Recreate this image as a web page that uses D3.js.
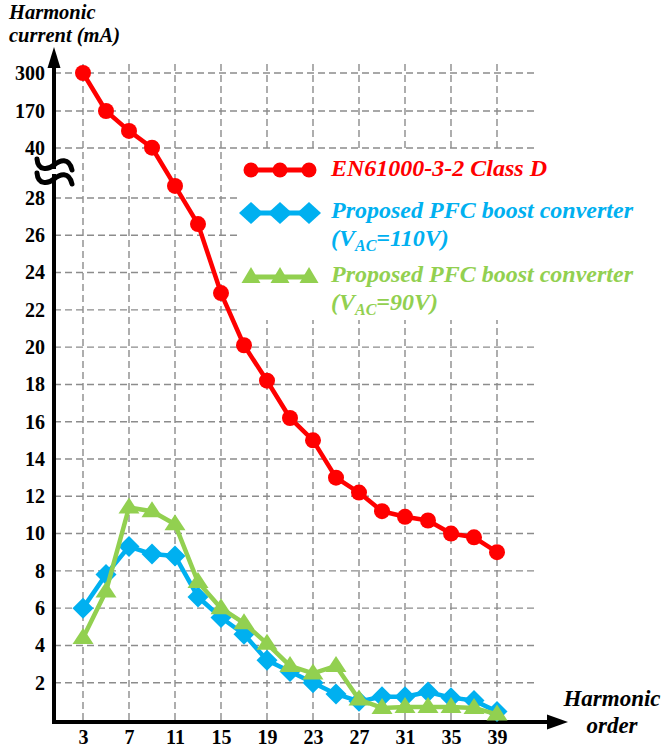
<!DOCTYPE html>
<html>
<head>
<meta charset="utf-8">
<script src="https://cdn.jsdelivr.net/npm/d3@7"></script>
<style>
  html, body { margin: 0; padding: 0; background: #fff; }
  svg { display: block; }
  text { font-family: "Liberation Serif", "Times New Roman", serif; font-weight: bold; }
</style>
</head>
<body>
<div id="chart"></div>
<script>
// harmonic orders (x axis)
const orders = [3, 5, 7, 9, 11, 13, 15, 17, 19, 21, 23, 25, 27, 29, 31, 33, 35, 37, 39];
// EN61000-3-2 Class D limit (mA)
const classD = [300, 170, 100, 41, 30.9, 26.6, 22.9, 20.1, 18.2, 16.2, 15.0, 13.0, 12.2, 11.2, 10.9, 10.7, 10.0, 9.8, 9.0];
// proposed converter, VAC = 110 V
const vac110 = [6.0, 7.8, 9.3, 8.9, 8.8, 6.6, 5.5, 4.6, 3.2, 2.6, 2.0, 1.4, 1.0, 1.25, 1.25, 1.5, 1.2, 1.05, 0.45];
// proposed converter, VAC = 90 V
const vac90 = [4.4, 6.9, 11.4, 11.2, 10.5, 7.4, 6.0, 5.2, 4.1, 2.9, 2.5, 2.9, 1.1, 0.65, 0.7, 0.7, 0.7, 0.65, 0.3];

const xTicks = [3, 7, 11, 15, 19, 23, 27, 31, 35, 39];
const yTicks = [2, 4, 6, 8, 10, 12, 14, 16, 18, 20, 22, 24, 26, 28, 40, 170, 300];

const width = 663, height = 751;
const axisX = 54, axisY = 722;
const gridRight = 537;
const serif = '"Liberation Serif", "Times New Roman", serif';

const svg = d3.select('#chart').append('svg')
  .attr('width', width)
  .attr('height', height);

// x: linear in harmonic order
const x = d3.scaleLinear().domain([3, 39]).range([83, 497]);
// y: broken axis, linear 0..28, then compressed 28..40..170..300
const y = d3.scaleLinear()
  .domain([0, 28, 40, 170, 300])
  .range([720, 198, 148, 111, 73]);

// grid
const grid = svg.append('g')
  .attr('stroke', '#8c8c8c')
  .attr('stroke-width', 1.4)
  .attr('stroke-dasharray', '7,4');

grid.selectAll('.hgrid')
  .data(yTicks)
  .enter()
  .append('line')
  .attr('class', 'hgrid')
  .attr('x1', axisX)
  .attr('x2', gridRight)
  .attr('y1', d => y(d))
  .attr('y2', d => y(d));

grid.selectAll('.vgrid')
  .data(xTicks)
  .enter()
  .append('line')
  .attr('class', 'vgrid')
  .attr('x1', d => x(d))
  .attr('x2', d => x(d))
  .attr('y1', 64)
  .attr('y2', axisY);

// legend background hides the grid behind it
svg.append('rect')
  .attr('x', 237)
  .attr('y', 150)
  .attr('width', 426)
  .attr('height', 170)
  .attr('fill', '#fff');

// axes
svg.append('line')
  .attr('x1', axisX).attr('x2', axisX)
  .attr('y1', 62).attr('y2', axisY + 2)
  .attr('stroke', '#000').attr('stroke-width', 4);
svg.append('path')
  .attr('d', `M${axisX},47 L${axisX - 6.5},68 L${axisX + 6.5},68 Z`)
  .attr('fill', '#000');

svg.append('line')
  .attr('x1', axisX - 2).attr('x2', 552)
  .attr('y1', axisY).attr('y2', axisY)
  .attr('stroke', '#000').attr('stroke-width', 4);
svg.append('path')
  .attr('d', `M568,${axisY} L547,${axisY - 7.5} L547,${axisY + 7.5} Z`)
  .attr('fill', '#000');

// axis break symbol
function tilde(cy) {
  return `M37,${cy - 6} C38,${cy + 6} 48,${cy + 5} ${axisX},${cy} S69,${cy - 8} 72,${cy + 5}`;
}
svg.append('rect')
  .attr('x', axisX - 3).attr('y', 169).attr('width', 6).attr('height', 5)
  .attr('fill', '#fff');
[165, 179].forEach(cy => {
  svg.append('path')
    .attr('d', tilde(cy))
    .attr('fill', 'none')
    .attr('stroke', '#000')
    .attr('stroke-width', 5)
    .attr('stroke-linecap', 'round');
});

// tick labels
const yAxis = svg.append('g')
  .attr('transform', `translate(${axisX - 9},0)`)
  .call(d3.axisLeft(y).tickValues(yTicks).tickSize(0).tickPadding(0).tickFormat(d3.format('d')));
yAxis.select('.domain').remove();
yAxis.selectAll('text')
  .attr('font-size', 20)
  .attr('font-family', serif)
  .attr('font-weight', 'bold')
  .attr('fill', '#000');

const xAxis = svg.append('g')
  .attr('transform', `translate(0,${axisY + 8})`)
  .call(d3.axisBottom(x).tickValues(xTicks).tickSize(0).tickPadding(0).tickFormat(d3.format('d')));
xAxis.select('.domain').remove();
xAxis.selectAll('text')
  .attr('font-size', 20)
  .attr('font-family', serif)
  .attr('font-weight', 'bold')
  .attr('fill', '#000');

// axis titles
svg.append('text')
  .attr('x', 9).attr('y', 19)
  .attr('font-size', 20.5)
  .attr('font-style', 'italic')
  .text('Harmonic');
svg.append('text')
  .attr('x', 9).attr('y', 42)
  .attr('font-size', 20.5)
  .attr('font-style', 'italic')
  .text('current (mA)');

svg.append('text')
  .attr('x', 612).attr('y', 706)
  .attr('text-anchor', 'middle')
  .attr('font-size', 23)
  .attr('font-style', 'italic')
  .text('Harmonic');
svg.append('text')
  .attr('x', 612).attr('y', 733)
  .attr('text-anchor', 'middle')
  .attr('font-size', 23)
  .attr('font-style', 'italic')
  .text('order');

// markers
const circleMark = (g, r) => g.append('circle').attr('r', r);
const diamondMark = (g, w, h) => g.append('path')
  .attr('d', `M0,${-h} L${w},0 L0,${h} L${-w},0 Z`);
const triangleMark = (g, w, h) => g.append('path')
  .attr('d', `M0,${-h * 0.62} L${w},${h * 0.38} L${-w},${h * 0.38} Z`);

const series = [
  { name: 'classD', values: classD, color: '#ff0000', marker: g => circleMark(g, 8) },
  { name: 'vac110', values: vac110, color: '#00b0f0', marker: g => diamondMark(g, 10.5, 10.5) },
  { name: 'vac90', values: vac90, color: '#92d050', marker: g => triangleMark(g, 10.5, 16) }
];

const line = d3.line()
  .x(d => x(d[0]))
  .y(d => y(d[1]));

series.forEach(s => {
  const pts = orders.map((o, i) => [o, s.values[i]]);
  const g = svg.append('g').attr('class', s.name);
  g.append('path')
    .datum(pts)
    .attr('d', line)
    .attr('fill', 'none')
    .attr('stroke', s.color)
    .attr('stroke-width', 4.5)
    .attr('stroke-linejoin', 'round');
  g.selectAll('.pt')
    .data(pts)
    .enter()
    .append('g')
    .attr('class', 'pt')
    .attr('transform', d => `translate(${x(d[0])},${y(d[1])})`)
    .each(function () {
      s.marker(d3.select(this)).attr('fill', s.color);
    });
});

// legend
const legend = svg.append('g');
const legendItems = [
  { y: 170, color: '#ff0000', base: [176], lines: [['EN61000-3-2 Class D']], marker: g => circleMark(g, 7.5) },
  { y: 213, color: '#00b0f0', base: [218, 246], lines: [['Proposed PFC boost converter'], ['(V', 'AC', '=110V)']], marker: g => diamondMark(g, 12, 11) },
  { y: 277, color: '#92d050', base: [282, 310], lines: [['Proposed PFC boost converter'], ['(V', 'AC', '=90V)']], marker: g => triangleMark(g, 9.5, 16) }
];

legendItems.forEach(item => {
  legend.append('line')
    .attr('x1', 251).attr('x2', 309)
    .attr('y1', item.y).attr('y2', item.y)
    .attr('stroke', item.color)
    .attr('stroke-width', 5);
  [251, 280, 309].forEach(mx => {
    const g = legend.append('g').attr('transform', `translate(${mx},${item.y})`);
    item.marker(g).attr('fill', item.color);
  });
  item.lines.forEach((parts, li) => {
    const t = legend.append('text')
      .attr('x', 331)
      .attr('y', item.base[li])
      .attr('font-size', 24)
      .attr('font-style', 'italic')
      .attr('fill', item.color);
    if (parts.length === 1) {
      t.text(parts[0]);
    } else {
      t.append('tspan').text(parts[0]);
      t.append('tspan').attr('font-size', 16).attr('dy', 5).text(parts[1]);
      t.append('tspan').attr('dy', -5).text(parts[2]);
    }
  });
});
</script>
</body>
</html>
